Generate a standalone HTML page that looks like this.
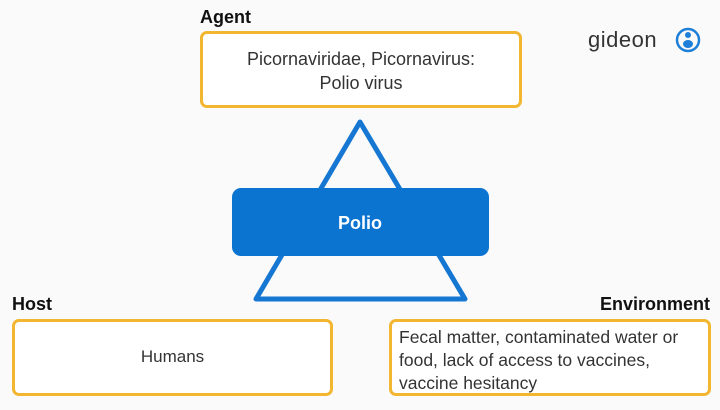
<!DOCTYPE html>
<html><head><style>
body{margin:0;width:720px;height:410px;background:#fafafa;position:relative;font-family:"Liberation Sans",sans-serif;overflow:hidden}
.b{position:absolute;border:3px solid #f2b630;border-radius:7px;background:#fff;box-sizing:border-box;color:#333;font-size:17px;line-height:23px}
.l{position:absolute;font-weight:bold;font-size:18px;color:#111}
</style></head><body>
<div class="l" style="left:200px;top:7px">Agent</div>
<div class="b" style="left:200px;top:31px;width:322px;height:77px;text-align:center;padding-top:13px;font-size:18px;line-height:24px">Picornaviridae, Picornavirus:<br>Polio virus</div>
<svg width="720" height="410" style="position:absolute;left:0;top:0">
<path d="M360 122 L465 299 L256 299 Z" fill="none" stroke="#1677d2" stroke-width="5" stroke-linejoin="round"/>
<rect x="232" y="188" width="257" height="68" rx="9" fill="#0b74d1"/>
<text x="360" y="229" text-anchor="middle" fill="#fff" font-family="Liberation Sans" font-weight="bold" font-size="18">Polio</text>
<circle cx="688" cy="40" r="11" fill="none" stroke="#1e7fd8" stroke-width="2.5"/>
<circle cx="688" cy="35" r="3" fill="#1e7fd8"/>
<ellipse cx="688" cy="44" rx="5" ry="4" fill="#1e7fd8"/>
</svg>
<div style="position:absolute;left:588px;top:27px;font-size:22px;color:#333;letter-spacing:0.5px">gideon</div>
<div class="l" style="left:12px;top:294px">Host</div>
<div class="l" style="right:10px;top:294px">Environment</div>
<div class="b" style="left:12px;top:319px;width:321px;height:77px;text-align:center;padding-top:23px">Humans</div>
<div class="b" style="left:389px;top:319px;width:322px;height:77px;padding:4px 0 0 7px;font-size:17.5px;line-height:23px;white-space:nowrap">Fecal matter, contaminated water or<br>food, lack of access to vaccines,<br>vaccine hesitancy</div>
</body></html>
